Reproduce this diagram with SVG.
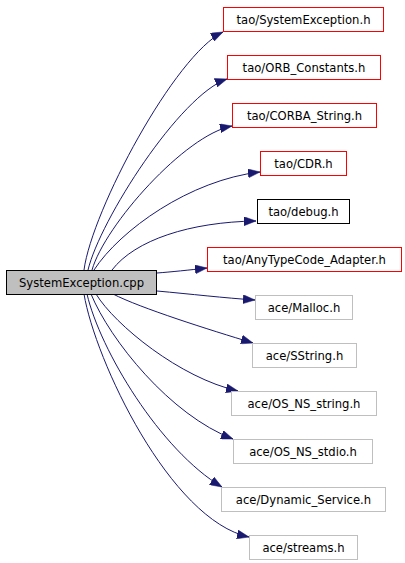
<svg xmlns="http://www.w3.org/2000/svg" width="405" height="563" viewBox="0 0 405 563">
<style>
rect.b{fill:#ffffff;stroke-width:1}
rect.gry{stroke:#bfbfbf}
rect.blk{stroke:#000000}
rect.root{fill:#bfbfbf;stroke:#000000}
text{font-family:"DejaVu Sans",Verdana,sans-serif;font-size:11.6px;fill:#000000;text-anchor:middle}
.e path{fill:none;stroke:#191970;stroke-width:1;marker-end:url(#arr)}
</style>
<defs>
<marker id="arr" markerUnits="userSpaceOnUse" markerWidth="12" markerHeight="9" refX="12" refY="4.5" orient="auto">
<path d="M0,0 L12,4.5 L0,9 z" fill="#191970" stroke="#191970" stroke-width="0.5"/>
</marker>
</defs>
<rect width="405" height="563" fill="#ffffff"/>
<g id="edges" class="e">
<path d="M84,270 C92,210 175,55 223,32"/>
<path d="M88,270 C100,220 180,95 227,79"/>
<path d="M92,270 C105,225 185,135 232,126"/>
<path d="M94,270 C120,230 190,180 260,172"/>
<path d="M112,270 C135,240 190,222 256,221"/>
<path d="M157,273 C170,272 190,270 207,268"/>
<path d="M157,291 C190,294 225,298 255,300"/>
<path d="M113,294 C140,308 210,330 253,343"/>
<path d="M96,294 C115,325 180,378 238,391"/>
<path d="M91,294 C110,340 170,415 233,439"/>
<path d="M87,294 C100,350 160,450 222,487"/>
<path d="M84,294 C95,360 170,520 249,537"/>
</g>
<g id="n0"><rect class="b root" x="6.5" y="270.5" width="150" height="24"/><text x="81.5" y="287">SystemException.cpp</text></g>
<g id="n1"><rect class="b" stroke="#ff0000" x="223.5" y="7.5" width="160" height="24"/><text x="303.5" y="24">tao/SystemException.h</text></g>
<g id="n2"><rect class="b" stroke="#ff0000" x="227.5" y="55.5" width="153" height="24"/><text x="304" y="72">tao/ORB_Constants.h</text></g>
<g id="n3"><rect class="b" stroke="#ff0000" x="232.5" y="103.5" width="144" height="24"/><text x="304.5" y="120">tao/CORBA_String.h</text></g>
<g id="n4"><rect class="b" stroke="#ff0000" x="260.5" y="151.5" width="86" height="24"/><text x="303.5" y="168">tao/CDR.h</text></g>
<g id="n5"><rect class="b blk" x="257.5" y="199.5" width="92" height="24"/><text x="303.5" y="216">tao/debug.h</text></g>
<g id="n6"><rect class="b" stroke="#ff0000" x="207.5" y="247.5" width="194" height="24"/><text x="304.5" y="264">tao/AnyTypeCode_Adapter.h</text></g>
<g id="n7"><rect class="b gry" x="255.5" y="295.5" width="97" height="24"/><text x="304" y="312">ace/Malloc.h</text></g>
<g id="n8"><rect class="b gry" x="252.5" y="343.5" width="104" height="24"/><text x="304.5" y="360">ace/SString.h</text></g>
<g id="n9"><rect class="b gry" x="231.5" y="391.5" width="145" height="24"/><text x="304" y="408">ace/OS_NS_string.h</text></g>
<g id="n10"><rect class="b gry" x="233.5" y="439.5" width="139" height="24"/><text x="303" y="456">ace/OS_NS_stdio.h</text></g>
<g id="n11"><rect class="b gry" x="221.5" y="487.5" width="164" height="24"/><text x="303.5" y="504">ace/Dynamic_Service.h</text></g>
<g id="n12"><rect class="b gry" x="249.5" y="535.5" width="108" height="24"/><text x="303.5" y="552">ace/streams.h</text></g>
</svg>
